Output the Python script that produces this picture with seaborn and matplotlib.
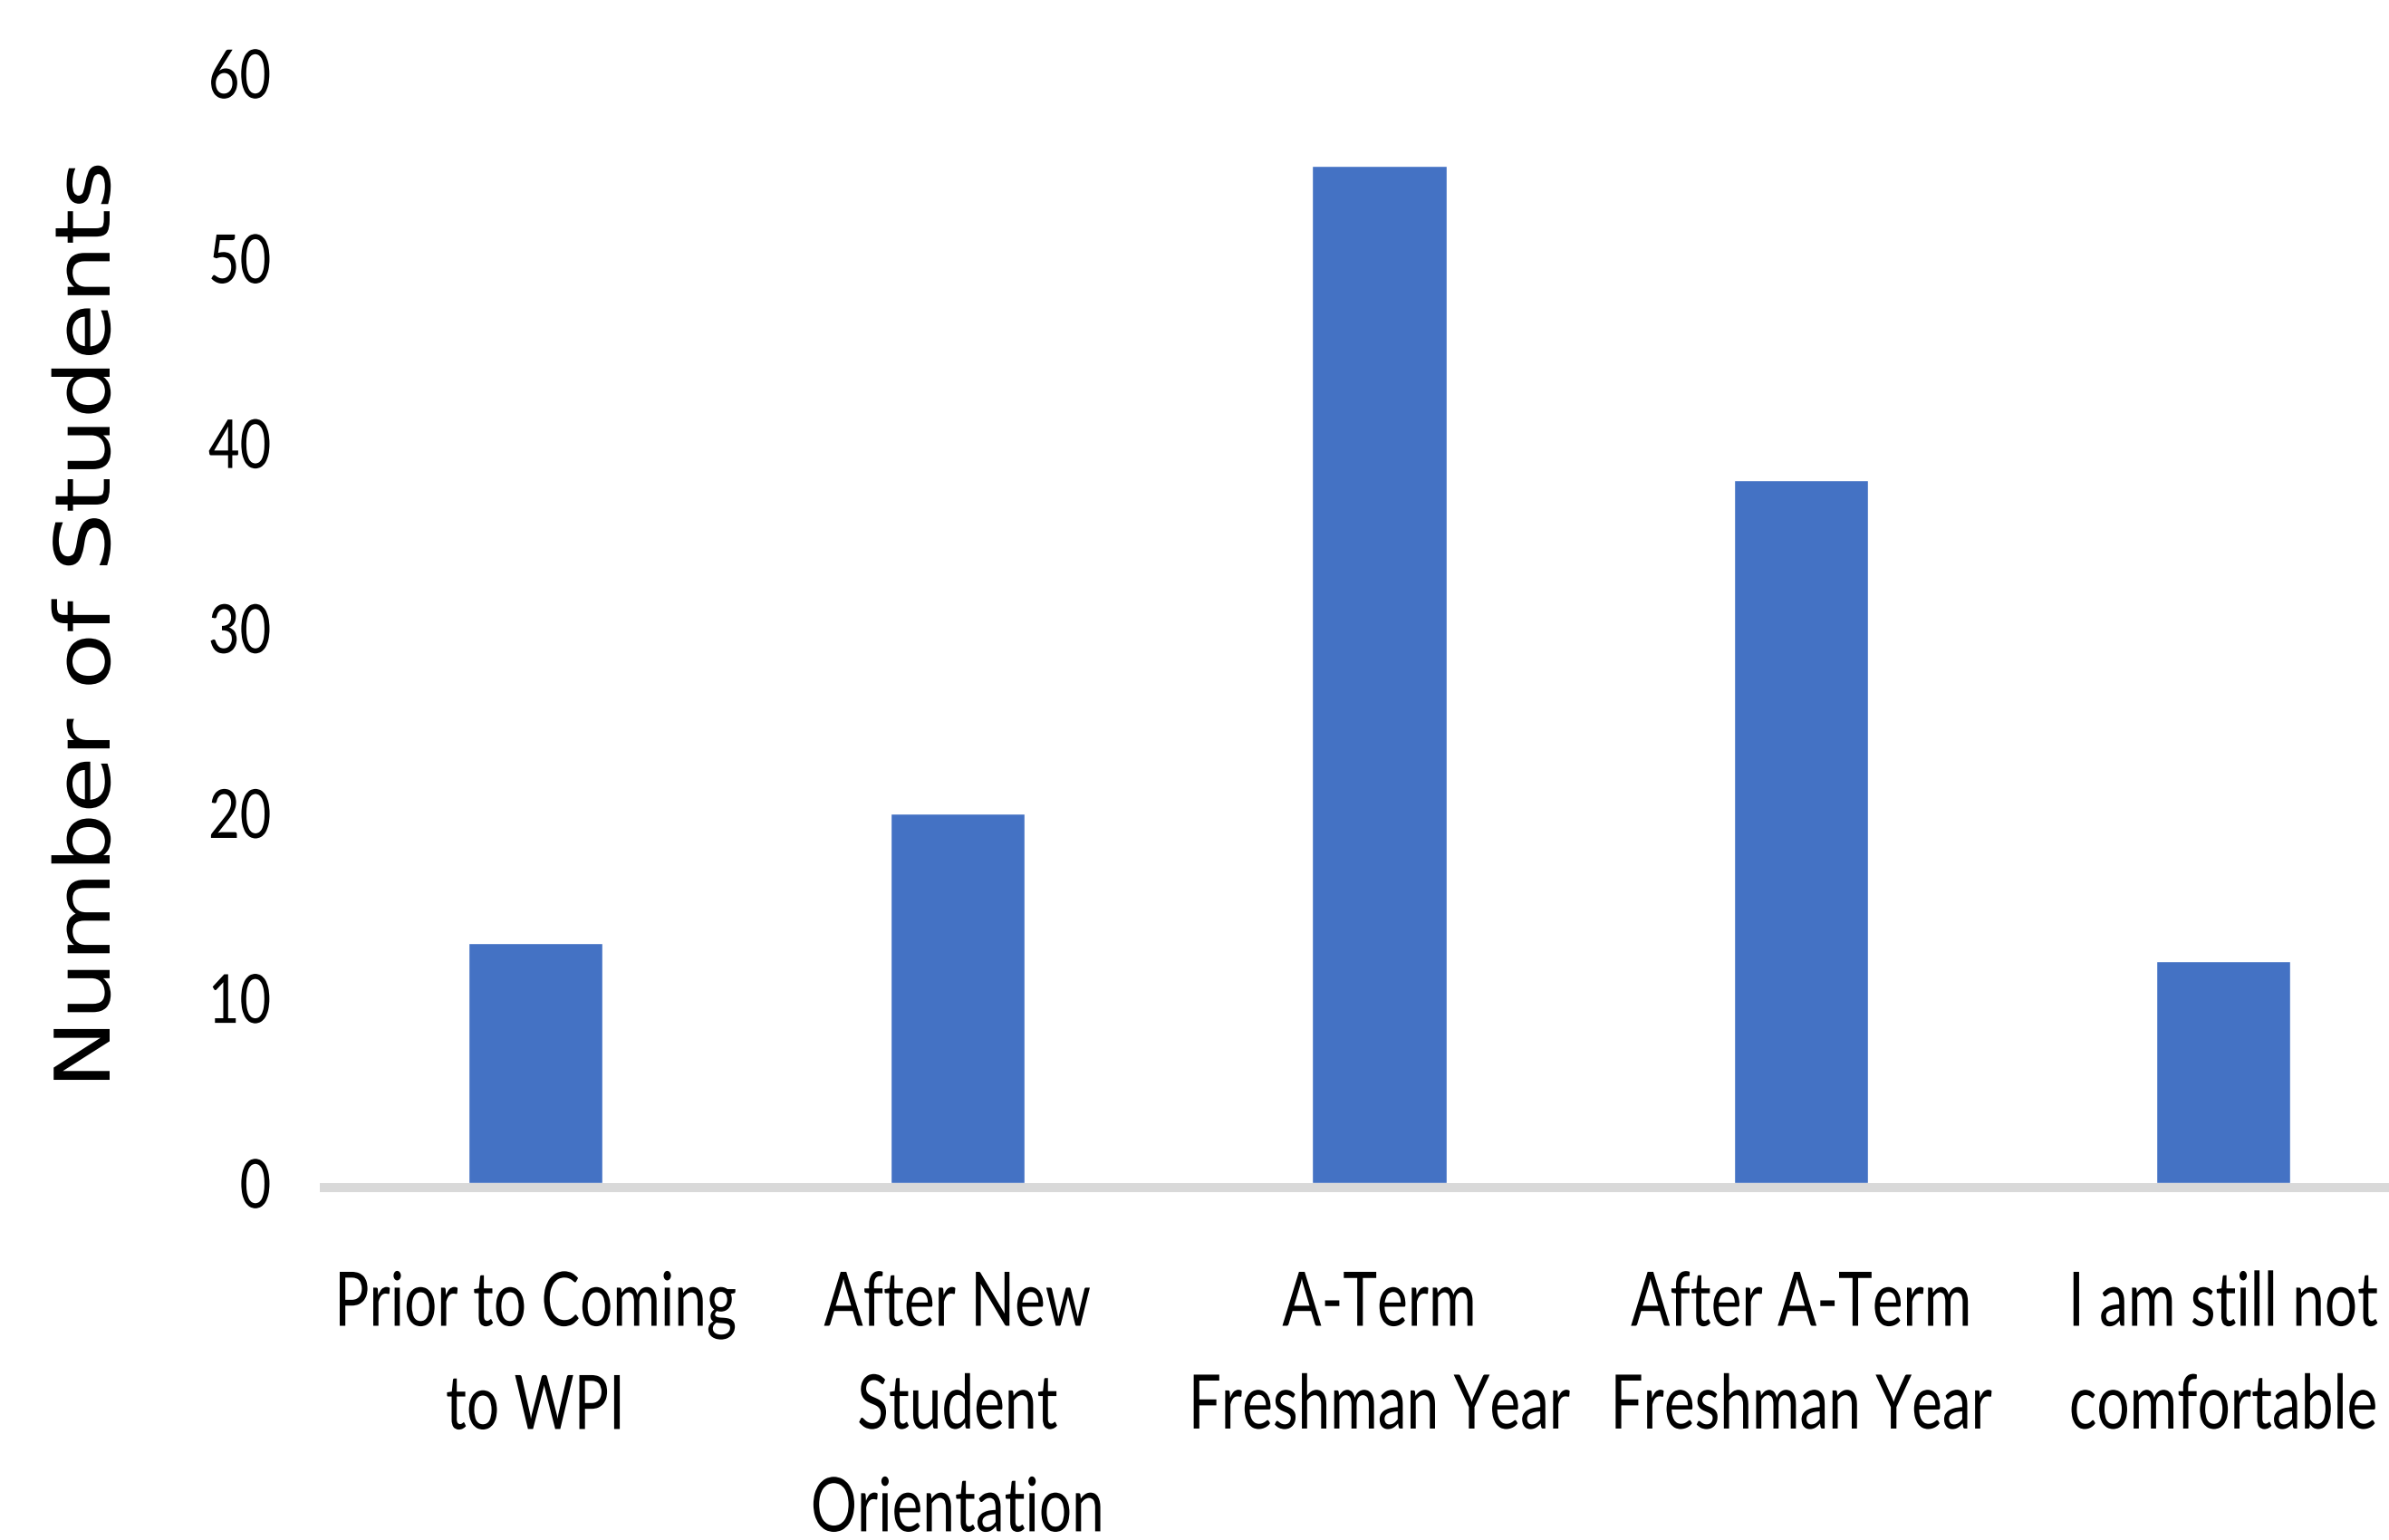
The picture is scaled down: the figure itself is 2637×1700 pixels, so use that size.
import matplotlib
matplotlib.use("Agg")
import matplotlib.pyplot as plt
import seaborn as sns
import pandas as pd
from matplotlib.patheffects import AbstractPathEffect
from matplotlib.transforms import Affine2D

# ── data ──
categories = [
    "Prior to Coming\nto WPI",
    "After New\nStudent\nOrientation",
    "A-Term\nFreshman Year",
    "After A-Term\nFreshman Year",
    "I am still not\ncomfortable",
]
students = [13, 20, 55, 38, 12]
y_ticks = [0, 10, 20, 30, 40, 50, 60]
y_label = "Number of Students"

BAR_COLOR = "#4472C4"
AXIS_COLOR = "#D9D9D9"


class Stretch(AbstractPathEffect):
    """draw text glyphs scaled (the reference has tall, narrow lettering)"""

    def __init__(self, sx=1.0, sy=1.0, centre=False):
        super().__init__()
        self.sx, self.sy, self.centre = sx, sy, centre

    def draw_path(self, renderer, gc, tpath, affine, rgbFace=None):
        y0 = 0.0
        if self.centre:
            ext = tpath.get_extents()
            y0 = (ext.y0 + ext.y1) / 2
        t = Affine2D().translate(0, -y0).scale(self.sx, self.sy).translate(0, y0)
        renderer.draw_path(gc, tpath, t + affine, rgbFace)


sns.set_theme(style="white")
plt.rcParams["font.family"] = ["Lato", "DejaVu Sans"]

fig = plt.figure(figsize=(26.37, 17), dpi=100)
ax = fig.add_axes([0.1358, 0.2318, 0.8642, 0.7206])

df = pd.DataFrame({"cat": categories, "n": students})
sns.barplot(data=df, x="cat", y="n", color=BAR_COLOR, width=0.318,
            saturation=1, ax=ax, zorder=3)

ax.set_xlim(-0.5, 4.393)
ax.set_ylim(0, 60)
ax.set_yticks(y_ticks)
ax.set_xlabel("")
ax.set_ylabel("")

for side in ["top", "right", "left"]:
    ax.spines[side].set_visible(False)
ax.spines["bottom"].set_color(AXIS_COLOR)
ax.spines["bottom"].set_linewidth(7.2)
ax.spines["bottom"].set_position(("outward", 3.6))

ax.tick_params(axis="x", length=0, pad=76, labelsize=46, labelcolor="black")
ax.tick_params(axis="y", length=0, pad=42.5, labelsize=43, labelcolor="black")

for lab in ax.get_xticklabels():
    lab.set_linespacing(2.18)
    lab.set_path_effects([Stretch(1.0, 1.3)])
for lab in ax.get_yticklabels():
    lab.set_path_effects([Stretch(1.0, 1.25, centre=True)])

fig.text(121 / 2637, 1 - 1202 / 1700, y_label, rotation=90,
         rotation_mode="anchor", ha="left", va="baseline",
         family="DejaVu Sans", fontsize=61, color="black",
         path_effects=[Stretch(1.2, 1.0)])

fig.savefig("out.png", dpi=100)
